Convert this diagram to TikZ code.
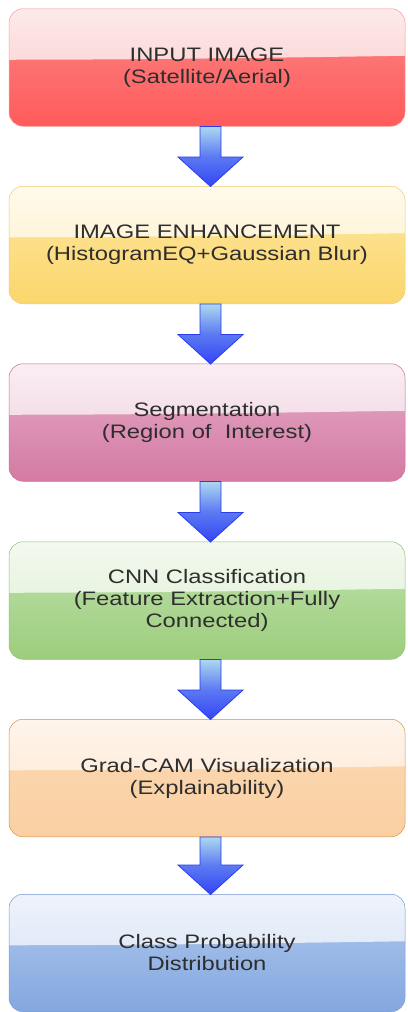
\documentclass[tikz,border=0pt]{standalone}
\usepackage{fontspec}
\setmainfont{Liberation Sans}[FakeStretch=1.22]
\usetikzlibrary{calc}

% glossy stage colours: highlight top/bottom, body top/bottom, edge
\definecolor{rA}{HTML}{FDEAEA}\definecolor{rB}{HTML}{FBC5C5}\definecolor{rC}{HTML}{FB8484}\definecolor{rD}{HTML}{FF5B5B}\definecolor{rE}{HTML}{F7A3A3}
\definecolor{yA}{HTML}{FFFAEC}\definecolor{yB}{HTML}{FDEEC2}\definecolor{yC}{HTML}{FDE7A0}\definecolor{yD}{HTML}{FBD66C}\definecolor{yE}{HTML}{EDCB78}
\definecolor{pA}{HTML}{F9EEF3}\definecolor{pB}{HTML}{EFCBDC}\definecolor{pC}{HTML}{E4ABC6}\definecolor{pD}{HTML}{D57AA3}\definecolor{pE}{HTML}{C9739A}
\definecolor{gA}{HTML}{F3F9EF}\definecolor{gB}{HTML}{DAEECD}\definecolor{gC}{HTML}{C0E2AD}\definecolor{gD}{HTML}{9CCD7C}\definecolor{gE}{HTML}{93C277}
\definecolor{oA}{HTML}{FEF5EC}\definecolor{oB}{HTML}{FDE3CA}\definecolor{oC}{HTML}{FBD8B2}\definecolor{oD}{HTML}{FAD0A3}\definecolor{oE}{HTML}{D9914C}
\definecolor{bA}{HTML}{EEF3FB}\definecolor{bB}{HTML}{D3E0F4}\definecolor{bC}{HTML}{B0C9EC}\definecolor{bD}{HTML}{83A7DF}\definecolor{bE}{HTML}{7C9DD6}
% arrow colours
\definecolor{arTop}{HTML}{ACD8F0}
\definecolor{arMid}{HTML}{5C7AF2}
\definecolor{arBot}{HTML}{3344F6}
\definecolor{arEdge}{HTML}{2A3CEE}
\definecolor{txt}{HTML}{2E2E2E}

\tikzset{
  stage/.style n args={5}{
    draw=#5, line width=0.5pt, rounded corners=14pt,
    minimum width=396pt, minimum height=117.5pt, inner sep=0pt,
    top color=#3, bottom color=#4,
    text=txt, align=center,
    font=\fontsize{19.5}{22}\selectfont,
    path picture={
      \shade[sharp corners, top color=#1, bottom color=#2]
        (path picture bounding box.north west)
        -- (path picture bounding box.north east)
        -- ([yshift=-47pt]path picture bounding box.north east)
        .. controls ([xshift=-130pt,yshift=-49pt]path picture bounding box.north east)
        and ([xshift=130pt,yshift=-51pt]path picture bounding box.north west)
        .. ([yshift=-51pt]path picture bounding box.north west)
        -- cycle;
    }
  },
  flowarrow/.style={
    draw=arEdge, line width=0.8pt, line join=miter,
    top color=arTop, bottom color=arBot, middle color=arMid
  }
}

% block arrow from the bottom of one stage to the top of the next
\newcommand\stagearrow[2]{%
  \path[flowarrow]
    ([xshift=-7pt]#1.south)
    -- ([xshift=-7pt,yshift=29pt]#2.north)
    -- ([xshift=-29pt,yshift=29pt]#2.north)
    -- ([xshift=3.5pt,yshift=-0.5pt]#2.north)
    -- ([xshift=36pt,yshift=29pt]#2.north)
    -- ([xshift=14pt,yshift=29pt]#2.north)
    -- ([xshift=14pt]#1.south)
    -- cycle;}

\begin{document}
\begin{tikzpicture}[x=1pt,y=-1pt]
  \useasboundingbox (0,0) rectangle (407,1012);

  \node[stage={rA}{rB}{rC}{rD}{rE}] (input) at (207,67.5)
    {INPUT IMAGE\\(Satellite/Aerial)};
  \node[stage={yA}{yB}{yC}{yD}{yE}] (enhance) at (207,245)
    {IMAGE ENHANCEMENT\\(HistogramEQ+Gaussian Blur)};
  \node[stage={pA}{pB}{pC}{pD}{pE}] (segment) at (207,422.5)
    {Segmentation\\(Region of\ \ Interest)};
  \node[stage={gA}{gB}{gC}{gD}{gE}] (cnn) at (207,600.5)
    {CNN Classification\\(Feature Extraction+Fully\\Connected)};
  \node[stage={oA}{oB}{oC}{oD}{oE}] (gradcam) at (207,778)
    {Grad-CAM Visualization\\(Explainability)};
  \node[stage={bA}{bB}{bC}{bD}{bE}] (probs) at (207,953)
    {Class Probability\\Distribution};

  \stagearrow{input}{enhance}
  \stagearrow{enhance}{segment}
  \stagearrow{segment}{cnn}
  \stagearrow{cnn}{gradcam}
  \stagearrow{gradcam}{probs}
\end{tikzpicture}
\end{document}
